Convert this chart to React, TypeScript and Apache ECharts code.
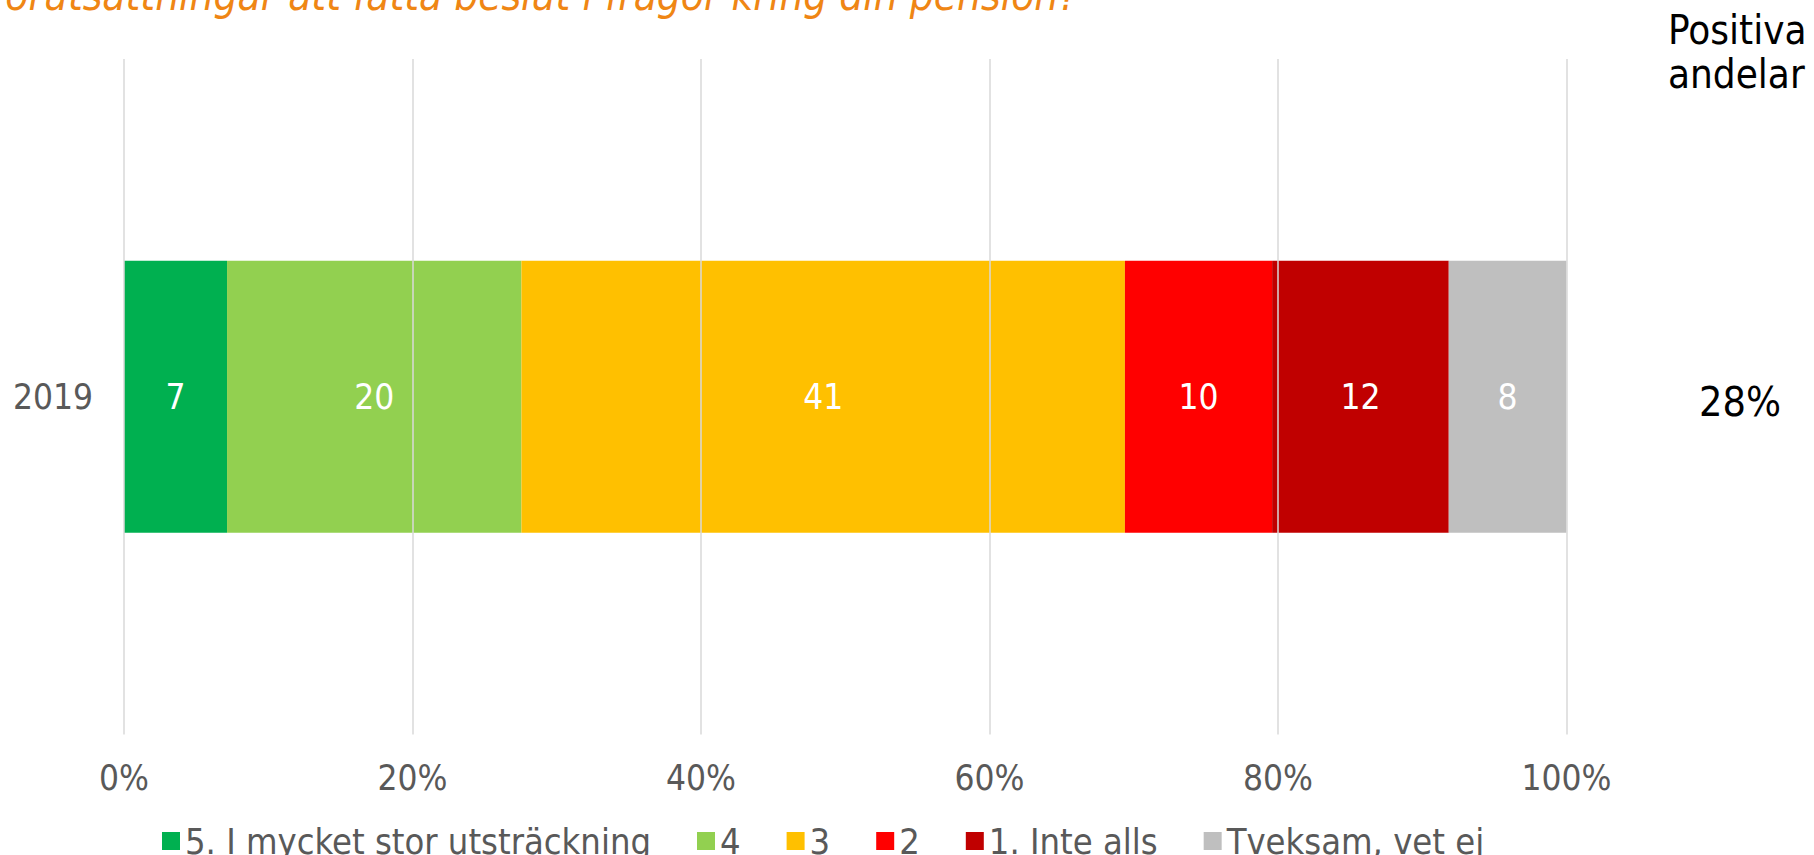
import React, { useEffect, useRef } from "react";
import * as echarts from "echarts";

const categories: string[] = ["2019"];
const seriesNames: string[] = [
  "5. I mycket stor utsträckning",
  "4",
  "3",
  "2",
  "1. Inte alls",
  "Tveksam, vet ej",
];
const seriesColors: string[] = ["#00B050", "#92D050", "#FFC000", "#FF0000", "#C00000", "#BFBFBF"];
const values2019: number[] = [7, 20, 41, 10, 12, 8];
const xTicks: number[] = [0, 20, 40, 60, 80, 100];
const positiveShare: string = "28%";
const rightHeader: string = "Positiva\nandelar";
const titleText: string = "förutsättningar att fatta beslut i frågor kring din pension?";

const FONT = "'DejaVu Sans Condensed', 'DejaVu Sans', Verdana, sans-serif";

export default function App() {
  const ref = useRef<HTMLDivElement>(null);

  useEffect(() => {
    if (!ref.current) return;
    const chart = echarts.init(ref.current, undefined, { renderer: "svg" });
    const total = values2019.reduce((a, b) => a + b, 0);

    const series = seriesNames.map((name, i) => ({
      name,
      type: "bar",
      stack: "total",
      barWidth: 272,
      itemStyle: { color: seriesColors[i] },
      label: {
        show: true,
        position: "inside",
        color: "#FFFFFF",
        fontSize: 35,
        fontFamily: FONT,
        formatter: (p: any) => String(p.data.raw),
      },
      data: [{ value: (values2019[i] / total) * 100, raw: values2019[i] }],
    }));

    chart.setOption({
      animation: false,
      textStyle: { fontFamily: FONT },
      grid: { left: 124, right: 247.5, top: 59, bottom: 120.5, containLabel: false },
      legend: {
        data: seriesNames,
        left: 157,
        top: 818,
        itemWidth: 18,
        itemHeight: 18,
        itemGap: 46,
        icon: "rect",
        textStyle: { fontSize: 36, color: "#595959", fontFamily: FONT },
      },
      xAxis: {
        type: "value",
        min: xTicks[0],
        max: xTicks[xTicks.length - 1],
        interval: xTicks[1] - xTicks[0],
        z: 5,
        axisLine: { show: false },
        axisTick: { show: false },
        axisLabel: {
          formatter: "{value}%",
          fontSize: 35,
          color: "#595959",
          margin: 26,
          fontFamily: FONT,
        },
        splitLine: { show: true, lineStyle: { color: "#D9D9D9", width: 1.5 } },
      },
      yAxis: {
        type: "category",
        data: categories,
        axisLine: { show: false },
        axisTick: { show: false },
        axisLabel: { fontSize: 35, color: "#595959", margin: 31, fontFamily: FONT },
      },
      graphic: [
        {
          type: "text",
          x: -8,
          y: -5,
          style: {
            text: titleText,
            fill: "#EF8614",
            font: `italic 42px ${FONT}`,
            textAlign: "left",
            textVerticalAlign: "middle",
          },
        },
        {
          type: "text",
          x: 1668,
          y: 8,
          style: {
            text: rightHeader,
            fill: "#000000",
            font: `40px ${FONT}`,
            lineHeight: 44,
            textAlign: "left",
            textVerticalAlign: "top",
          },
        },
        {
          type: "text",
          x: 1740,
          y: 402,
          style: {
            text: positiveShare,
            fill: "#000000",
            font: `41px ${FONT}`,
            textAlign: "center",
            textVerticalAlign: "middle",
          },
        },
      ],
      series,
    });

    return () => chart.dispose();
  }, []);

  return (
    <div
      ref={ref}
      style={{ position: "fixed", left: 0, top: 0, width: 1814, height: 855, background: "#FFFFFF" }}
    />
  );
}
